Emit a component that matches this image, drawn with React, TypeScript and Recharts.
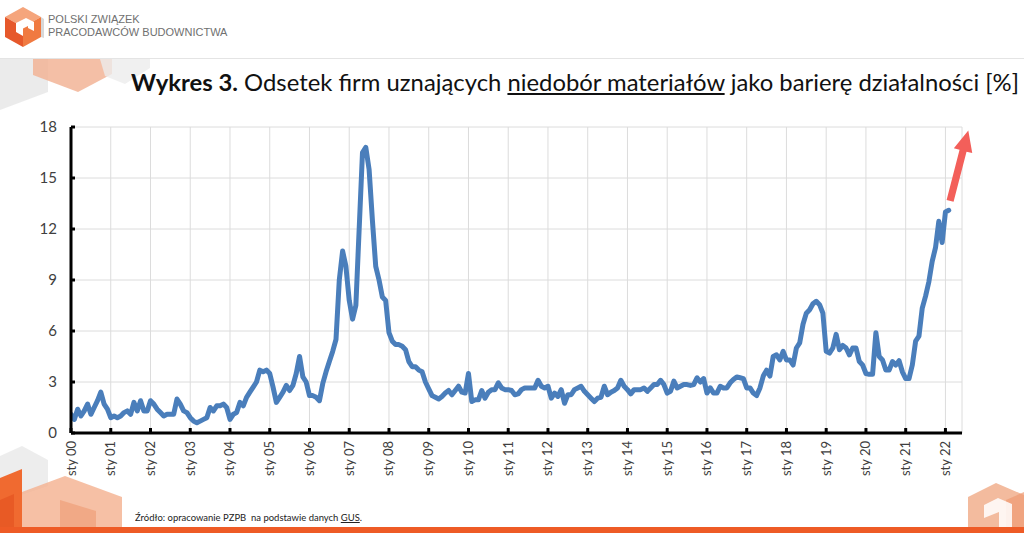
import React, { useLayoutEffect, useRef, useState } from 'react';
import { LineChart, Line, XAxis, YAxis, CartesianGrid, ReferenceLine } from 'recharts';

// Monthly share of firms reporting material shortages (%), Jan 2000 – Feb 2022
const y2000 = [1.1, 0.8, 1.4, 1.0, 1.3, 1.7, 1.1, 1.5, 1.9, 2.4, 1.7, 1.4];
const y2001 = [0.9, 1.0, 0.9, 1.0, 1.2, 1.3, 1.1, 1.8, 1.3, 1.9, 1.3, 1.3];
const y2002 = [1.9, 1.7, 1.4, 1.2, 1.0, 1.1, 1.1, 1.1, 2.0, 1.7, 1.3, 1.2];
const y2003 = [0.9, 0.7, 0.6, 0.7, 0.8, 0.9, 1.5, 1.3, 1.6, 1.6, 1.7, 1.5];
const y2004 = [0.8, 1.1, 1.2, 1.8, 1.6, 2.1, 2.4, 2.7, 3.0, 3.7, 3.6, 3.7];
const y2005 = [3.5, 2.7, 1.8, 2.1, 2.4, 2.8, 2.5, 2.8, 3.5, 4.5, 3.3, 3.0];
const y2006 = [2.2, 2.2, 2.1, 1.9, 2.9, 3.6, 4.2, 4.8, 5.5, 9.0, 10.7, 9.8];
const y2007 = [7.8, 6.7, 7.5, 12.0, 16.5, 16.8, 15.5, 12.5, 9.8, 9.0, 8.0, 7.8];
const y2008 = [5.9, 5.4, 5.2, 5.2, 5.1, 4.9, 4.2, 3.9, 3.9, 3.7, 3.6, 3.0];
const y2009 = [2.6, 2.2, 2.1, 2.0, 2.15, 2.35, 2.5, 2.25, 2.5, 2.75, 2.4, 2.35];
const y2010 = [3.5, 1.85, 1.95, 1.95, 2.5, 2.05, 2.4, 2.55, 2.55, 2.95, 2.65, 2.55];
const y2011 = [2.55, 2.5, 2.25, 2.3, 2.55, 2.65, 2.65, 2.65, 2.65, 3.1, 2.75, 2.65];
const y2012 = [2.75, 2.05, 2.35, 2.15, 2.55, 1.75, 2.25, 2.25, 2.55, 2.65, 2.75, 2.45];
const y2013 = [2.25, 2.05, 1.85, 2.05, 2.1, 2.75, 2.25, 2.4, 2.5, 2.65, 3.1, 2.75];
const y2014 = [2.55, 2.3, 2.55, 2.55, 2.55, 2.65, 2.45, 2.65, 2.85, 2.85, 3.1, 2.85];
const y2015 = [2.35, 2.45, 3.05, 2.65, 2.75, 2.85, 2.85, 2.8, 2.85, 3.25, 3.0, 3.2];
const y2016 = [2.35, 2.65, 2.35, 2.35, 2.75, 2.65, 2.65, 2.95, 3.15, 3.3, 3.25, 3.2];
const y2017 = [2.65, 2.65, 2.35, 2.2, 2.65, 3.35, 3.7, 3.35, 4.5, 4.6, 4.3, 4.8];
const y2018 = [4.3, 4.3, 4.0, 5.0, 5.3, 6.4, 7.05, 7.25, 7.6, 7.75, 7.55, 7.05];
const y2019 = [4.8, 4.7, 5.0, 5.8, 4.9, 5.15, 5.0, 4.6, 5.0, 5.0, 4.2, 4.0];
const y2020 = [3.5, 3.45, 3.45, 5.9, 4.5, 4.3, 3.7, 3.7, 4.2, 4.0, 4.25, 3.6];
const y2021 = [3.2, 3.2, 4.0, 5.4, 5.7, 7.35, 8.05, 8.9, 10.1, 10.9, 12.45, 11.2];
const y2022 = [13.0, 13.1];

const tickLabels = [
  'sty 00', 'sty 01', 'sty 02', 'sty 03', 'sty 04', 'sty 05', 'sty 06', 'sty 07',
  'sty 08', 'sty 09', 'sty 10', 'sty 11', 'sty 12', 'sty 13', 'sty 14', 'sty 15',
  'sty 16', 'sty 17', 'sty 18', 'sty 19', 'sty 20', 'sty 21', 'sty 22',
];
const yTicks = [0, 3, 6, 9, 12, 15, 18];

// trend arrow annotation (month index, value)
const arrowFrom = { m: 265.4, v: 13.65 };
const arrowTo = { m: 270.9, v: 17.8 };

const share = [
  ...y2000, ...y2001, ...y2002, ...y2003, ...y2004, ...y2005, ...y2006, ...y2007,
  ...y2008, ...y2009, ...y2010, ...y2011, ...y2012, ...y2013, ...y2014, ...y2015,
  ...y2016, ...y2017, ...y2018, ...y2019, ...y2020, ...y2021, ...y2022,
];
const data = share.map((v, m) => ({ m, v }));
const tickMonths = tickLabels.map((_, i) => i * 12);

const FONT = 'Lato, "Open Sans", sans-serif';

function FitText({ width, style, children }: { width: number; style: React.CSSProperties; children: React.ReactNode }) {
  const ref = useRef<HTMLSpanElement>(null);
  const [s, setS] = useState(1);
  useLayoutEffect(() => {
    if (ref.current) {
      const w = ref.current.getBoundingClientRect().width;
      if (w > 0) setS(width / w);
    }
  }, []);
  return (
    <div
      style={{
        position: 'absolute',
        whiteSpace: 'nowrap',
        transformOrigin: '0 0',
        transform: `scaleX(${s})`,
        ...style,
      }}
    >
      <span ref={ref}>{children}</span>
    </div>
  );
}

const XTick = (props: any) => {
  const { x, y, payload } = props;
  const idx = Math.round(payload.value / 12);
  return (
    <g transform={`translate(${x},${y})`}>
      <line x1={0} y1={-5} x2={0} y2={0} stroke="#000" strokeWidth={3} />
      <text
        transform="rotate(-90)"
        x={-8}
        y={0}
        dy={4.5}
        textAnchor="end"
        fill="#404040"
        fontSize={13}
        fontFamily={FONT}
      >
        {tickLabels[idx]}
      </text>
    </g>
  );
};

const YTick = (props: any) => {
  const { x, y, payload } = props;
  return (
    <g transform={`translate(${x},${y})`}>
      <line x1={0} y1={0} x2={4} y2={0} stroke="#000" strokeWidth={3} />
      <text x={-14} y={0} dy={5} textAnchor="end" fill="#404040" fontSize={15} fontFamily={FONT}>
        {payload.value}
      </text>
    </g>
  );
};

const Arrow = (props: any) => {
  const { x1, y1, x2, y2 } = props;
  if ([x1, y1, x2, y2].some((n) => typeof n !== 'number' || isNaN(n))) return null;
  const dx = x2 - x1;
  const dy = y2 - y1;
  const len = Math.sqrt(dx * dx + dy * dy);
  const ux = dx / len;
  const uy = dy / len;
  const px = -uy;
  const py = ux;
  const headLen = 21;
  const headHalf = 9.5;
  const shaftHalf = 3.6;
  const bx = x2 - ux * headLen;
  const by = y2 - uy * headLen;
  const pts = [
    [x1 + px * shaftHalf, y1 + py * shaftHalf],
    [bx + px * shaftHalf, by + py * shaftHalf],
    [bx + px * headHalf, by + py * headHalf],
    [x2, y2],
    [bx - px * headHalf, by - py * headHalf],
    [bx - px * shaftHalf, by - py * shaftHalf],
    [x1 - px * shaftHalf, y1 - py * shaftHalf],
  ];
  return <polygon points={pts.map((p) => p.join(',')).join(' ')} fill="#f35f5a" />;
};

function Decorations() {
  return (
    <svg width={1024} height={533} style={{ position: 'absolute', left: 0, top: 0 }}>
      {/* header separator */}
      <line x1={0} y1={58.5} x2={1024} y2={58.5} stroke="#e4e4e4" strokeWidth={1} />
      {/* top-left faded shapes */}
      <polygon points="0,59 48,59 48,92 0,110" fill="#e2e2e2" opacity={0.7} />
      <polygon points="33,59 112,59 112,74 78,92 33,75" fill="#f2b496" opacity={0.85} />
      <polygon points="100,59 150,59 150,68 125,84 105,76" fill="#ececec" opacity={0.8} />
      {/* logo cube */}
      <polygon points="5,17 23,7 41,17 23,27" fill="#f5a57c" />
      <polygon points="5,17 23,27 23,47 5,37" fill="#e6582b" />
      <polygon points="23,27 41,17 41,37 23,47" fill="#f07a41" />
      <polygon points="16,23 26,18 34,22 34,31 28,28 28,26 23,28.5 23,36 16,32" fill="#ffffff" />
      <polygon points="41,17 44,19 44,38 41,37" fill="#d8d8d8" />
      {/* bottom-left faded shapes */}
      <polygon points="0,456 22,446 48,460 48,486 0,502" fill="#e3e3e3" opacity={0.65} />
      <polygon points="22,492 65,476 122,497 122,527 22,527" fill="#f4b08e" opacity={0.8} />
      <polygon points="60,500 96,511 96,527 60,527" fill="#ee9a72" opacity={0.6} />
      <polygon points="0,478 22,469 22,527 0,527" fill="#f06a30" />
      <polygon points="0,500 14,494 14,527 0,527" fill="#e85a25" />
      {/* bottom-right faded cube */}
      <polygon points="968,497 996,483 1024,495 1024,527 968,527" fill="#f3bb9e" />
      <polygon points="1006,500 1024,492 1024,527 1006,527" fill="#ee9a74" opacity={0.7} />
      <polygon points="984,505 998,498 1012,504 1012,527 999,527 999,512 984,518" fill="#ffffff" opacity={0.85} />
      {/* bottom orange bar */}
      <rect x={0} y={527} width={1024} height={6} fill="#ee5b26" />
    </svg>
  );
}

export default function App() {
  return (
    <div
      style={{
        position: 'absolute',
        left: 0,
        top: 0,
        width: 1024,
        height: 533,
        background: '#ffffff',
        overflow: 'hidden',
      }}
    >
      <Decorations />
      <div
        style={{
          position: 'absolute',
          left: 48,
          top: 13,
          fontFamily: '"Liberation Sans", Arial, sans-serif',
          fontSize: 11,
          lineHeight: '13px',
          color: '#707070',
          whiteSpace: 'nowrap',
        }}
      >
        <div>POLSKI ZWIĄZEK</div>
        <div>PRACODAWCÓW BUDOWNICTWA</div>
      </div>
      <FitText
        width={888}
        style={{
          left: 131,
          top: 70,
          fontFamily: FONT,
          fontSize: 23,
          lineHeight: '24px',
          color: '#111111',
        }}
      >
        <b>Wykres 3.</b> Odsetek firm uznających <u>niedobór materiałów</u> jako barierę działalności [%]
      </FitText>
      <FitText
        width={227}
        style={{
          left: 135,
          top: 513,
          fontFamily: FONT,
          fontSize: 9,
          lineHeight: '10px',
          color: '#222222',
        }}
      >
        Źródło: opracowanie PZPB&nbsp;&nbsp;na podstawie danych <u>GUS</u>.
      </FitText>
      <div style={{ position: 'absolute', left: 0, top: 0 }}>
        <LineChart
          width={1024}
          height={533}
          data={data}
          margin={{ top: 127, right: 62, bottom: 50, left: 31 }}
        >
          <CartesianGrid stroke="#dcdcdc" strokeWidth={1} />
          <XAxis
            dataKey="m"
            type="number"
            domain={[0, 269]}
            ticks={tickMonths}
            interval={0}
            tick={<XTick />}
            tickLine={false}
            tickSize={0}
            tickMargin={0}
            axisLine={{ stroke: '#000', strokeWidth: 3 }}
            height={50}
            allowDataOverflow
          />
          <YAxis
            type="number"
            domain={[0, 18]}
            ticks={yTicks}
            interval={0}
            tick={<YTick />}
            tickLine={false}
            tickSize={0}
            tickMargin={0}
            axisLine={{ stroke: '#000', strokeWidth: 3 }}
            width={40}
          />
          <Line
            type="linear"
            dataKey="v"
            stroke="#4a7ebb"
            strokeWidth={5}
            dot={false}
            activeDot={false}
            strokeLinejoin="round"
            strokeLinecap="round"
            isAnimationActive={false}
          />
          <ReferenceLine
            segment={[
              { x: arrowFrom.m, y: arrowFrom.v },
              { x: arrowTo.m, y: arrowTo.v },
            ]}
            ifOverflow="visible"
            shape={Arrow}
          />
        </LineChart>
      </div>
    </div>
  );
}
